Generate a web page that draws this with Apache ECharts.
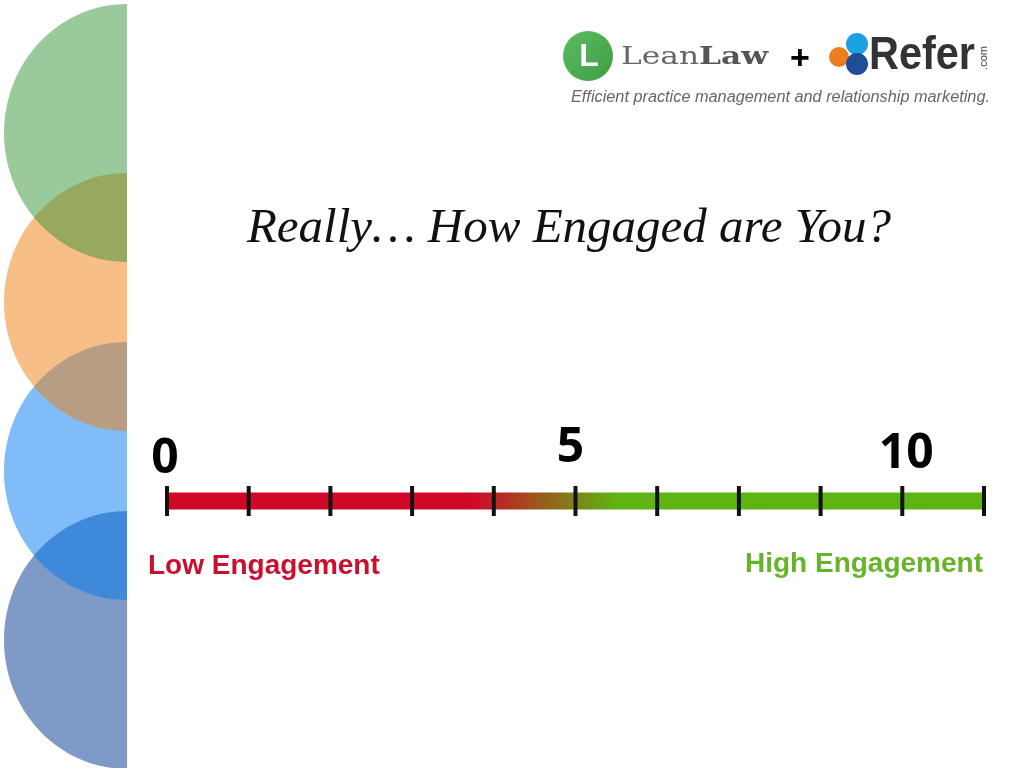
<!DOCTYPE html>
<html>
<head>
<meta charset="utf-8">
<script src="https://cdn.jsdelivr.net/npm/echarts@6/dist/echarts.min.js"></script>
<style>
html,body{margin:0;padding:0;background:#fff;}
#main{width:1024px;height:768px;}
</style>
</head>
<body>
<div id="main"></div>
<script>
// ---- data ----
const scaleMin = 0;
const scaleMax = 10;
const tickValues = [0, 1, 2, 3, 4, 5, 6, 7, 8, 9, 10];
const labelPositions = [0, 5, 9];
const labelTexts = ['0', '5', '10'];
const lowLabel = 'Low Engagement';
const highLabel = 'High Engagement';
const titleText = 'Really\u2026 How Engaged are You?';
const tagline = 'Efficient practice management and relationship marketing.';

// ---- chart ----
const chart = echarts.init(document.getElementById('main'), null, {renderer: 'canvas'});

const labelOffsets = [[-2, -42], [-5, -53], [4, -47]];

const ellipses = [
  {cy: 640, color: 'rgba(0,53,141,0.5)'},
  {cy: 471, color: 'rgba(0,121,241,0.5)'},
  {cy: 302, color: 'rgba(239,127,11,0.5)'},
  {cy: 133, color: 'rgba(53,147,55,0.5)'}
];

const graphics = [];
ellipses.forEach((e) => {
  graphics.push({
    type: 'ellipse', z: 0,
    shape: {cx: 127, cy: e.cy, rx: 123, ry: 129},
    style: {fill: e.color}
  });
});
graphics.push({type: 'rect', z: 1, shape: {x: 127, y: 0, width: 900, height: 768}, style: {fill: '#fff'}});

// title
graphics.push({
  type: 'text', z: 10, x: 569, y: 229,
  style: {text: titleText, font: 'italic 49px "Liberation Serif", serif', fill: '#111', align: 'center', verticalAlign: 'middle'}
});
// low/high
graphics.push({
  type: 'text', z: 10, x: 148, y: 566,
  style: {text: lowLabel, font: 'bold 28px "Liberation Sans", Arial, sans-serif', fill: '#C8102E', align: 'left', verticalAlign: 'middle'}
});
graphics.push({
  type: 'text', z: 10, x: 983, y: 564,
  style: {text: highLabel, font: 'bold 28px "Liberation Sans", Arial, sans-serif', fill: '#66B42A', align: 'right', verticalAlign: 'middle'}
});
// tagline
graphics.push({
  type: 'text', z: 10, x: 990, y: 97,
  style: {text: tagline, font: 'italic 16.3px "Liberation Sans", Arial, sans-serif', fill: '#666', align: 'right', verticalAlign: 'middle'}
});
// LeanLaw logo
graphics.push({
  type: 'circle', z: 10, shape: {cx: 588, cy: 56, r: 25},
  style: {fill: new echarts.graphic.LinearGradient(0, 0, 1, 1, [{offset: 0, color: '#5DBB5F'}, {offset: 1, color: '#3E9E45'}])}
});
graphics.push({
  type: 'text', z: 11, x: 589, y: 57,
  style: {text: 'L', font: 'bold 32px "Liberation Sans", Arial, sans-serif', fill: '#fff', align: 'center', verticalAlign: 'middle'}
});
graphics.push({
  type: 'text', z: 10, x: 621, y: 57, scaleX: 1.25,
  style: {
    text: '{a|Lean}{b|Law}',
    verticalAlign: 'middle', align: 'left',
    rich: {
      a: {fontSize: 25, fontFamily: '"DejaVu Serif", serif', fontWeight: 'normal', fill: '#666'},
      b: {fontSize: 25, fontFamily: '"DejaVu Serif", serif', fontWeight: 'bold', fill: '#555'}
    }
  }
});
graphics.push({
  type: 'text', z: 10, x: 800, y: 60,
  style: {text: '+', font: 'bold 34px "Liberation Sans", Arial, sans-serif', fill: '#000', align: 'center', verticalAlign: 'middle'}
});
// Refer logo
graphics.push({type: 'circle', z: 10, shape: {cx: 839, cy: 57, r: 10}, style: {fill: '#EE7D22'}});
graphics.push({type: 'circle', z: 10, shape: {cx: 857, cy: 44, r: 11}, style: {fill: '#1BA1E2'}});
graphics.push({type: 'circle', z: 10, shape: {cx: 857, cy: 64, r: 11}, style: {fill: '#1F4E96'}});
graphics.push({
  type: 'text', z: 10, x: 869, y: 56, scaleX: 0.9,
  style: {text: 'Refer', font: 'bold 46px "Liberation Sans", Arial, sans-serif', fill: '#333', align: 'left', verticalAlign: 'middle'}
});
graphics.push({
  type: 'text', z: 10, x: 984, y: 58, rotation: Math.PI / 2,
  style: {text: '.com', font: '11px "Liberation Sans", Arial, sans-serif', fill: '#444', align: 'center', verticalAlign: 'middle'}
});

const barStart = 0.377, barEnd = 0.548;

const option = {
  animation: false,
  grid: {left: 167, right: 40, top: 401, height: 200},
  xAxis: {type: 'value', min: scaleMin, max: scaleMax, interval: 1, show: false},
  yAxis: {type: 'value', min: -1, max: 1, show: false},
  graphic: graphics,
  series: [
    {
      type: 'line', z: 3, symbol: 'none',
      data: [[scaleMin, 0], [scaleMax, 0]],
      lineStyle: {
        width: 17, cap: 'butt',
        color: new echarts.graphic.LinearGradient(0, 0, 1, 0, [
          {offset: 0, color: '#CF0828'},
          {offset: barStart, color: '#CF0828'},
          {offset: barEnd, color: '#5EB412'},
          {offset: 1, color: '#5EB412'}
        ])
      }
    },
    {
      type: 'scatter', z: 4, symbol: 'rect', symbolSize: [4, 30],
      itemStyle: {color: '#111', opacity: 1},
      data: tickValues.map(v => [v, 0])
    },
    {
      type: 'scatter', z: 5, symbolSize: 0,
      itemStyle: {opacity: 1},
      data: labelPositions.map((v, i) => ({
        value: [v, 0],
        label: {
          show: true, formatter: labelTexts[i], position: 'inside',
          offset: labelOffsets[i],
          fontFamily: '"Open Sans", sans-serif', fontWeight: 'bold', fontSize: 48,
          color: '#000', textBorderWidth: 0
        }
      }))
    }
  ]
};
chart.setOption(option);
</script>
</body>
</html>
